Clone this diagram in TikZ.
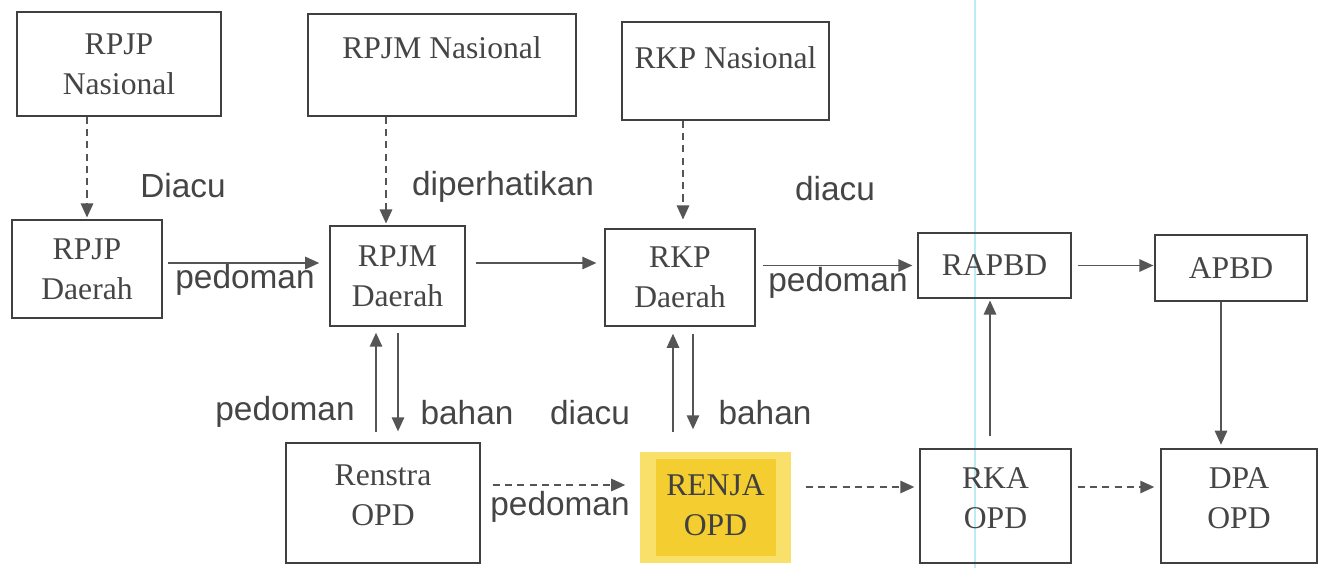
\documentclass[tikz,border=0pt]{standalone}
\usepackage{fontspec}
\setmainfont{Liberation Serif}
\newfontfamily\lblfont{Liberation Sans}
\usepackage{tikz}
\usetikzlibrary{arrows.meta}
\definecolor{garis}{HTML}{555555}
\definecolor{tulisan}{HTML}{454545}
\definecolor{kuningluar}{HTML}{F8E06A}
\definecolor{kuningdalam}{HTML}{F4CE30}
\definecolor{scan}{HTML}{BDEBF2}
\tikzset{
kotak/.style={draw=black!75,line width=0.8pt,align=center,text=tulisan,
font=\fontsize{18}{22.7}\selectfont,inner sep=0pt},
lbl/.style={text=tulisan,font=\lblfont\fontsize{19}{22}\selectfont,inner sep=0pt},
panah/.style={->,draw=garis,line width=1.1pt},
putus/.style={panah,dash pattern=on 4pt off 3pt}
}
\begin{document}
\begin{tikzpicture}[line cap=butt,line join=miter,
>={Triangle[length=8pt,width=7pt]},x=0.02cm,y=-0.02cm]
\useasboundingbox (0,0) rectangle (1325,568);
% garis sisa pindaian
\draw[scan,line width=0.6pt] (975,0) -- (975,568);
% Baris atas: tingkat nasional
\node[kotak,minimum width=4.08cm,minimum height=2.08cm] (rpjpn) at (119,64)
{RPJP\\Nasional};
\node[kotak,minimum width=5.36cm,minimum height=2.04cm] (rpjmn) at (442,65)
{RPJM Nasional\\[-2.3pt] \mbox{}};
\node[kotak,minimum width=4.14cm,minimum height=1.96cm] (rkpn) at (725.5,71)
{RKP Nasional\\[-6.8pt] \mbox{}};
% Baris tengah: tingkat daerah
\node[kotak,minimum width=3.0cm,minimum height=1.96cm] (rpjpd) at (87,269)
{RPJP\\Daerah};
\node[kotak,minimum width=2.7cm,minimum height=2.0cm] (rpjmd) at (397.5,276)
{RPJM\\Daerah};
\node[kotak,minimum width=3.0cm,minimum height=1.94cm] (rkpd) at (680,277.5)
{RKP\\Daerah};
\node[kotak,minimum width=3.06cm,minimum height=1.3cm] (rapbd) at (994.5,265.5)
{RAPBD};
\node[kotak,minimum width=3.04cm,minimum height=1.32cm] (apbd) at (1231,268)
{APBD};
% Baris bawah: OPD
\node[kotak,minimum width=3.88cm,minimum height=2.4cm] (renstra) at (383,503)
{Renstra\\OPD\\[-13.7pt] \mbox{}};
\node[kotak,draw=none,fill=kuningluar,minimum width=3.02cm,minimum height=2.22cm]
(renja) at (715.5,507.5) {};
\fill[kuningdalam] ([xshift=0.34cm,yshift=-0.16cm]renja.north west)
rectangle ([xshift=-0.32cm,yshift=0.16cm]renja.south east);
\node[kotak,draw=none,text=black!75] (renjatxt) at ([yshift=0.04cm]renja)
{RENJA\\OPD};
\node[kotak,minimum width=3.02cm,minimum height=2.28cm] (rka) at (995.5,506)
{RKA\\OPD\\[-14pt] \mbox{}};
\node[kotak,minimum width=3.12cm,minimum height=2.28cm] (dpa) at (1239,506)
{DPA\\OPD\\[-14pt] \mbox{}};
% Panah putus-putus dari nasional
\draw[putus,shorten >=1pt] (rpjpd.north |- rpjpn.south) -- (rpjpd.north);
\draw[putus,shorten >=1pt] ([xshift=-0.23cm]rpjmd.north |- rpjmn.south)
-- ([xshift=-0.23cm]rpjmd.north);
\draw[putus,shorten >=5pt] ([xshift=0.06cm]rkpd.north |- rkpn.south)
-- ([xshift=0.06cm]rkpd.north);
% Panah mendatar baris tengah
\draw[panah,shorten <=2.8pt,shorten >=5.7pt] ([yshift=0.12cm]rpjpd.east)
-- ([yshift=0.12cm]rpjpd.east -| rpjmd.west);
\draw[panah,shorten <=5.7pt,shorten >=4.5pt] ([yshift=0.26cm]rpjmd.east)
-- ([yshift=0.26cm]rpjmd.east -| rkpd.west);
\draw[panah,shorten <=4pt,shorten >=2.8pt] (rkpd.east |- rapbd.west) -- (rapbd.west);
\draw[panah,shorten <=3.4pt,shorten >=0.5pt] (rapbd.east) -- (apbd.west |- rapbd.east);
% Panah tegak
\draw[panah,shorten >=2pt] ([xshift=-0.2cm]apbd.south)
-- ([xshift=-0.2cm]apbd.south |- dpa.north);
\draw[panah,shorten <=6.8pt,shorten >=1pt] ([xshift=-0.11cm]rka.north)
-- ([xshift=-0.11cm]rka.north |- rapbd.south);
\draw[panah,shorten <=5.7pt,shorten >=3.4pt] ([xshift=-0.43cm]rpjmd.south |- renstra.north)
-- ([xshift=-0.43cm]rpjmd.south);
\draw[panah,shorten <=3.4pt,shorten >=6.2pt] ([xshift=0.01cm]rpjmd.south)
-- ([xshift=0.01cm]rpjmd.south |- renstra.north);
\draw[panah,shorten <=10.8pt,shorten >=4pt] ([xshift=-0.14cm]rkpd.south |- renja.north)
-- ([xshift=-0.14cm]rkpd.south);
\draw[panah,shorten <=4pt,shorten >=12.5pt] ([xshift=0.26cm]rkpd.south)
-- ([xshift=0.26cm]rkpd.south |- renja.north);
% Panah putus-putus baris bawah
\draw[putus,shorten <=6.8pt,shorten >=8pt] ([yshift=0.36cm]renstra.east)
-- ([yshift=0.36cm]renstra.east -| renja.west);
\draw[putus,shorten <=8pt,shorten >=2.8pt] ([yshift=0.41cm]renja.east)
-- ([yshift=0.41cm]renja.east -| rka.west);
\draw[putus,shorten <=3.4pt,shorten >=3.4pt] ([yshift=0.38cm]rka.east)
-- ([yshift=0.38cm]rka.east -| dpa.west);
% Keterangan
\node[lbl] (lDiacu) at (183,186) {Diacu};
\node[lbl] (lPerhati) at (503,187) {diperhatikan};
\node[lbl] (lDiacuB) at (835,189) {diacu};
\node[lbl] (lPedA) at (245,280) {pedoman};
\node[lbl] (lPedB) at (838,283) {pedoman};
\node[lbl] (lPedC) at (285,412) {pedoman};
\node[lbl] (lBahanA) at (467,413) {bahan};
\node[lbl] (lDiacuC) at (590,413) {diacu};
\node[lbl] (lBahanB) at (765,413) {bahan};
\node[lbl] (lPedD) at (560,507) {pedoman};
\end{tikzpicture}
\end{document}
